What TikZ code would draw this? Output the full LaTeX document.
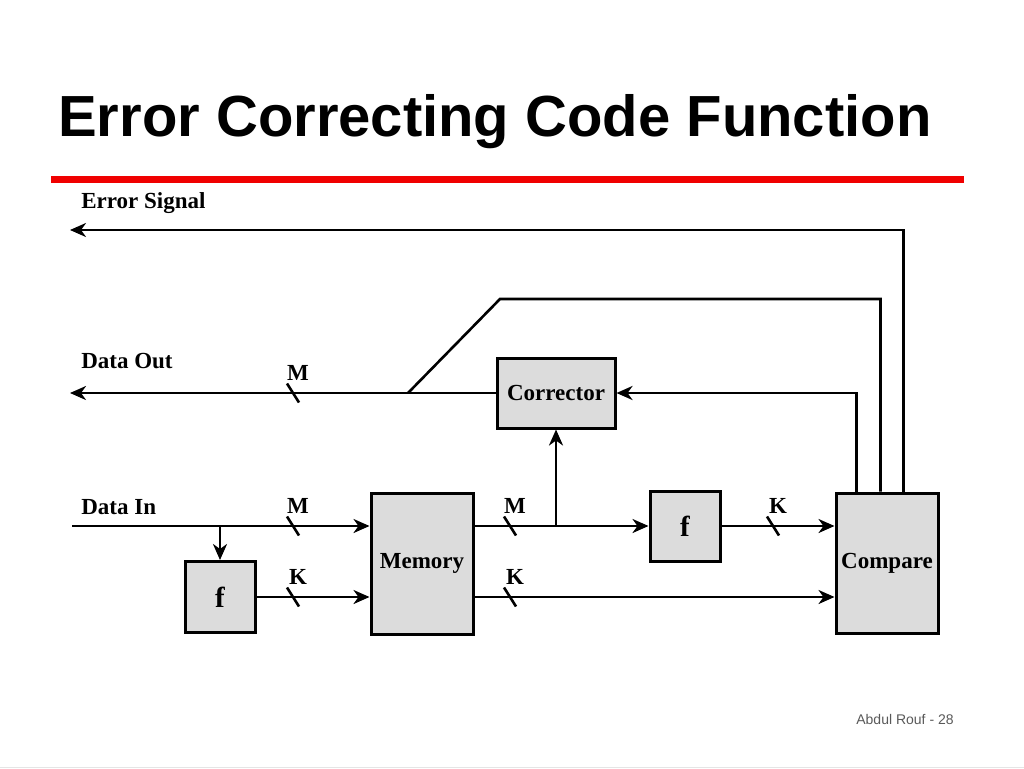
\documentclass[tikz,border=0pt]{standalone}
\usepackage{fontspec}
\setmainfont{Liberation Serif}
\newfontfamily\headfont{Liberation Sans}
\usepackage{tikz}
\usetikzlibrary{arrows.meta}
\usetikzlibrary{positioning}
\usetikzlibrary{calc}
\definecolor{boxgray}{RGB}{220,220,220}
\definecolor{rulered}{RGB}{240,0,0}
\tikzset{
    >={Stealth[length=16pt,width=14pt,inset=5pt]},
    wire/.style={draw=black, line width=2.6pt},
    block/.style={draw=black, line width=3pt, fill=boxgray, inner sep=0pt,
        font=\bfseries\fontsize{23}{25}\selectfont},
    bigf/.style={font=\bfseries\fontsize{29}{31}\selectfont},
    lbl/.style={font=\bfseries\fontsize{23}{25}\selectfont, inner sep=0pt},
    pics/busmark/.style={code={
        \draw[wire] (-6,-9.5) -- (6,9.5);
        \node[lbl] at (5,-20) {#1};}},
}
\begin{document}
\begin{tikzpicture}[x=1pt, y=-1pt, line width=2.6pt]
    \useasboundingbox (0,0) rectangle (1024,768);
    \node[anchor=base west, inner sep=0pt, font=\headfont\bfseries\fontsize{58}{62}\selectfont] (title) at (57,136) {Error Correcting Code Function};
    \draw[rulered, line width=7pt] (51,179) -- (964,179);

    \node[block, minimum width=118pt, minimum height=70pt] (corr) at (556,393) {Corrector};
    \node[block, minimum width=102pt, minimum height=141pt] (mem) at (422,563.5) {Memory};
    \node[block, bigf, minimum width=70pt, minimum height=71pt] (fin) at (220,597) {f};
    \node[block, bigf, minimum width=70pt, minimum height=70pt] (fmem) at (685,526) {f};
    \node[block, minimum width=102pt, minimum height=140pt] (cmp) at (887,563) {Compare};

    \node[lbl, anchor=west] (errlbl) at (80,203) {Error Signal};
    \node[lbl, anchor=west] (outlbl) at (80,361) {Data Out};
    \node[lbl, anchor=west] (inlbl) at (80,507) {Data In};

    \coordinate (errend) at (70,230);
    \coordinate (outend) at (70,393);
    \coordinate (instart) at (72,526);
    \coordinate (tap) at (408,393);
    \coordinate (kink) at (500,299);

    \draw[wire,->] ([xshift=69pt]cmp.north west) |- (errend);
    \draw[wire] ([xshift=46pt]cmp.north west) |- (kink) -- (tap);
    \draw[wire,->] ([xshift=22pt]cmp.north west) |- (corr.east);
    \draw[wire,->] (corr.west) -- (outend);
    \draw[wire,->] (instart) -- (instart -| mem.west);
    \draw[wire,->] (instart -| fin.north) -- (fin.north);
    \draw[wire,->] (fin.east) -- (fin.east -| mem.west);
    \draw[wire,->] (mem.east |- instart) -- (fmem.west);
    \draw[wire,->] (fmem.east) -- (fmem.east -| cmp.west);
    \draw[wire,->] (fin.east -| mem.east) -- (fin.east -| cmp.west);
    \draw[wire,->] (corr.south |- instart) -- (corr.south);

    \pic at (293,393) {busmark=M};
    \pic at (293,526) {busmark=M};
    \pic at (293,597) {busmark=K};
    \pic at (510,526) {busmark=M};
    \pic at (510,597) {busmark=K};
    \pic at (773,526) {busmark=K};

    \node[font=\headfont\fontsize{14}{16}\selectfont, text=black!65] (footer) at (905,719) {Abdul Rouf - 28};
    \draw[black!10, line width=1pt] (0,767) -- (1024,767);
\end{tikzpicture}
\end{document}
